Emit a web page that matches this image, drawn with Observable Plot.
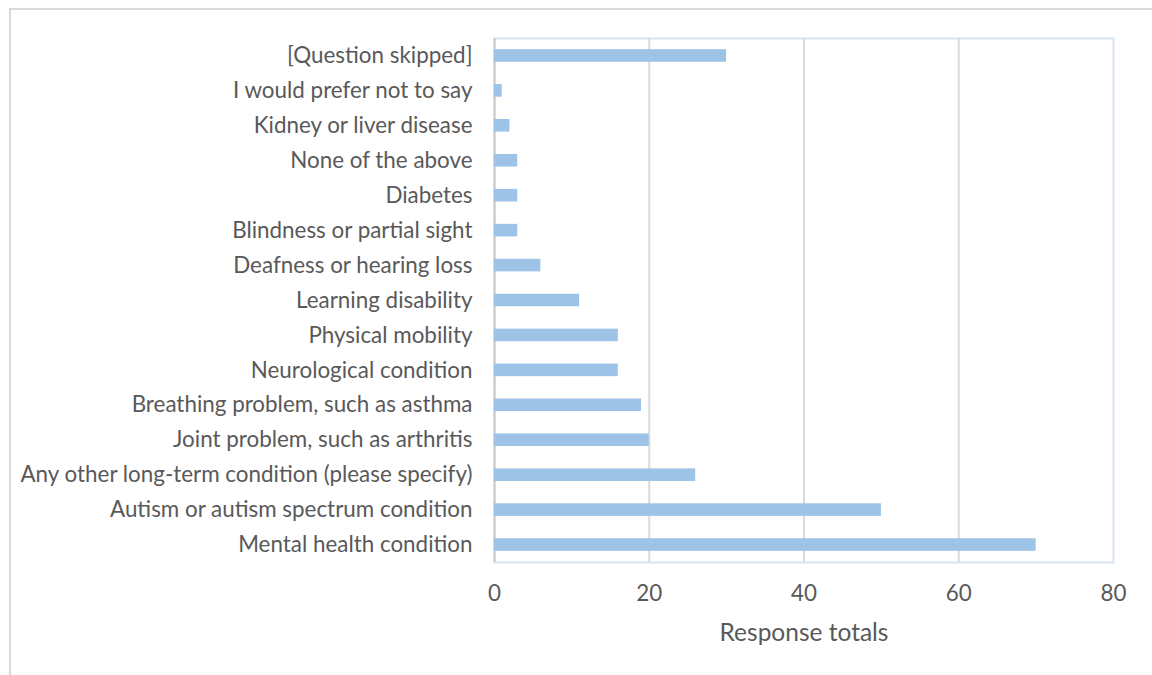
<!DOCTYPE html>
<html>
<head>
<meta charset="utf-8">
<script src="https://cdn.jsdelivr.net/npm/d3@7"></script>
<script src="https://cdn.jsdelivr.net/npm/@observablehq/plot@0.6"></script>
<style>
  html, body { margin: 0; padding: 0; background: #fff; overflow: hidden; }
  #outer { position: absolute; left: 9px; top: 8px; width: 1200px; height: 720px; border: 2px solid #d9d9d9; box-sizing: border-box; }
  #chart { position: absolute; left: 0; top: 0; }
</style>
</head>
<body>
<div id="outer"></div>
<div id="chart"></div>
<script>
const categories = [
  "[Question skipped]",
  "I would prefer not to say",
  "Kidney or liver disease",
  "None of the above",
  "Diabetes",
  "Blindness or partial sight",
  "Deafness or hearing loss",
  "Learning disability",
  "Physical mobility",
  "Neurological condition",
  "Breathing problem, such as asthma",
  "Joint problem, such as arthritis",
  "Any other long-term condition (please specify)",
  "Autism or autism spectrum condition",
  "Mental health condition"
];
const values = [30, 1, 2, 3, 3, 3, 6, 11, 16, 16, 19, 20, 26, 50, 70];
const xTicks = [0, 20, 40, 60, 80];
const xLabel = "Response totals";

const data = categories.map((c, i) => ({category: c, value: values[i]}));

const chart = Plot.plot({
  width: 1152,
  height: 675,
  marginLeft: 494,
  marginRight: 39,
  marginTop: 38,
  marginBottom: 113,
  style: {fontFamily: "Lato, 'Open Sans', sans-serif", fontSize: "22px", color: "#595959", background: "transparent"},
  x: {domain: [0, 80], ticks: xTicks, label: null},
  y: {domain: categories, paddingInner: 0.64, paddingOuter: 0.32, round: false, label: null},
  marks: [
    Plot.frame({stroke: "#dae3f3", strokeWidth: 2}),
    Plot.gridX(xTicks.filter(d => d > 0 && d < 80), {stroke: "#d9d9d9", strokeOpacity: 1, strokeWidth: 2}),
    Plot.ruleX([0], {stroke: "#d0d0d0", strokeWidth: 2.5}),
    Plot.barX(data, {x: "value", y: "category", fill: "#9dc3e6"}),
    Plot.axisY({tickSize: 0, tickPadding: 22, fontSize: 22.4, fill: "#595959"}),
    Plot.axisX({ticks: xTicks, tickSize: 0, tickPadding: 23, fontSize: 22.4, fill: "#595959", tickFormat: d => String(d)}),
    Plot.text([xLabel], {frameAnchor: "bottom", dy: 78, fontSize: 24.5, fill: "#595959"})
  ]
});
document.getElementById("chart").appendChild(chart);
</script>
</body>
</html>
